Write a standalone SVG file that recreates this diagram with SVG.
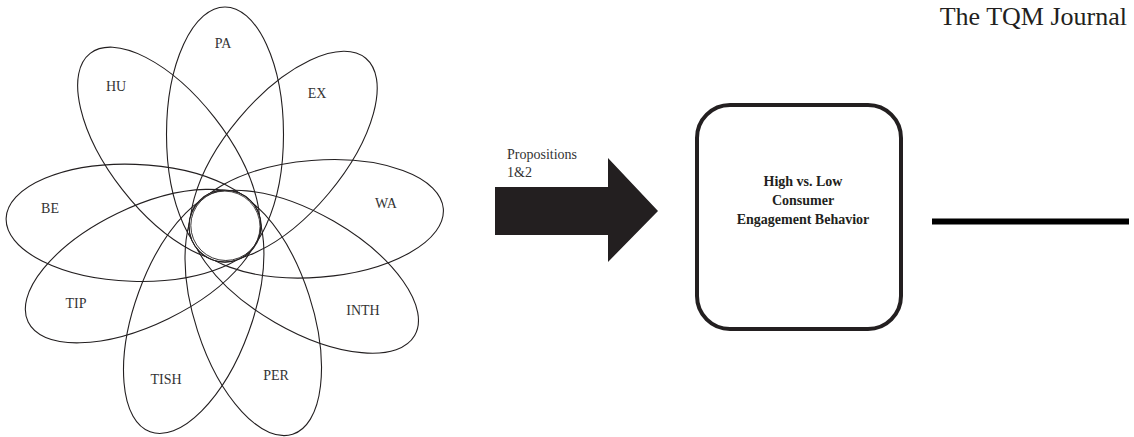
<svg xmlns="http://www.w3.org/2000/svg" width="1134" height="437" viewBox="0 0 1134 437">
<style>
.pet{fill:none;stroke:#231f20;stroke-width:1.1}
.lbl{font-family:"Liberation Serif","Times New Roman",serif;font-size:14px;fill:#333;text-anchor:middle}
.bt{font-family:"Liberation Serif","Times New Roman",serif;font-size:14px;font-weight:bold;fill:#231f20;text-anchor:middle}
</style>
<rect width="1134" height="437" fill="#fff"/>
<g id="flower">
<g id="petals" transform="translate(225 226)">
<ellipse id="PA" class="pet" cx="91.5" cy="0" rx="127.5" ry="58.5" transform="rotate(-90)"/>
<ellipse id="EX" class="pet" cx="91.5" cy="0" rx="127.5" ry="58.5" transform="rotate(-50)"/>
<ellipse id="WA" class="pet" cx="91.5" cy="0" rx="127.5" ry="58.5" transform="rotate(-4.5)"/>
<ellipse id="INTH" class="pet" cx="91.5" cy="0" rx="127.5" ry="58.5" transform="rotate(30)"/>
<ellipse id="PER" class="pet" cx="91.5" cy="0" rx="127.5" ry="58.5" transform="rotate(72)"/>
<ellipse id="TISH" class="pet" cx="91.5" cy="0" rx="127.5" ry="58.5" transform="rotate(110)"/>
<ellipse id="TIP" class="pet" cx="91.5" cy="0" rx="127.5" ry="58.5" transform="rotate(154)"/>
<ellipse id="BE" class="pet" cx="91.5" cy="0" rx="127.5" ry="58.5" transform="rotate(182)"/>
<ellipse id="HU" class="pet" cx="91.5" cy="0" rx="127.5" ry="58.5" transform="rotate(232)"/>
</g>
<g id="core">
<circle cx="225" cy="226" r="36" fill="#fff" stroke="#231f20" stroke-width="1.1"/>
<circle cx="225.8" cy="225.5" r="35" fill="none" stroke="#231f20" stroke-width="0.9"/>
<circle cx="224.5" cy="226.6" r="35.5" fill="none" stroke="#231f20" stroke-width="0.8"/>
</g>
<g id="labels">
<text class="lbl" x="223" y="48">PA</text>
<text class="lbl" x="116" y="91">HU</text>
<text class="lbl" x="317" y="98">EX</text>
<text class="lbl" x="386" y="208">WA</text>
<text class="lbl" x="50" y="213">BE</text>
<text class="lbl" x="76" y="308">TIP</text>
<text class="lbl" x="363" y="315">INTH</text>
<text class="lbl" x="166" y="384">TISH</text>
<text class="lbl" x="276" y="380">PER</text>
</g>
</g>
<g id="connectors">
<polygon id="bigArrow" points="495,187 608,187 608,158 658,211 608,262 608,235 495,235" fill="#231f20"/>
<line id="rightLine" x1="932" y1="221.5" x2="1129" y2="221.5" stroke="#000" stroke-width="6"/>
</g>
<g id="arrowLabel">
<text x="507" y="159" font-family="Liberation Serif, serif" font-size="14" fill="#333">Propositions</text>
<text x="507" y="177" font-family="Liberation Serif, serif" font-size="14" fill="#333">1&amp;2</text>
</g>
<g id="engagement">
<rect x="697" y="105" width="204" height="224" rx="33" ry="33" fill="#fff" stroke="#231f20" stroke-width="4"/>
<text class="bt" x="803" y="186">High vs. Low</text>
<text class="bt" x="803" y="205">Consumer</text>
<text class="bt" x="803" y="224">Engagement Behavior</text>
</g>
<text id="journal" x="1127" y="25" font-family="Liberation Serif, serif" font-size="26" fill="#231f20" text-anchor="end">The TQM Journal</text>
</svg>
